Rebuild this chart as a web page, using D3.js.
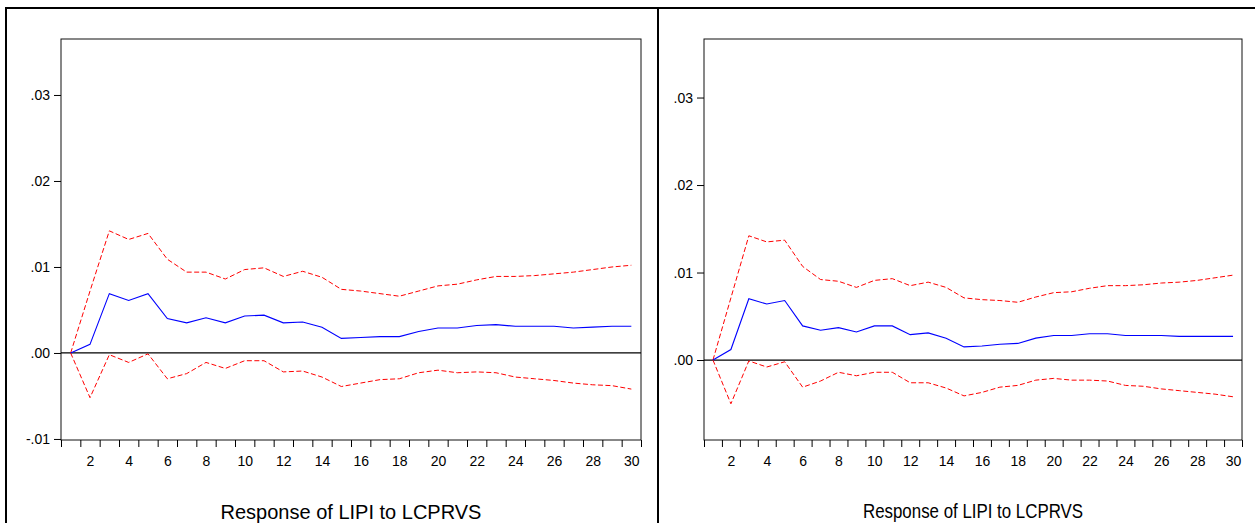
<!DOCTYPE html>
<html>
<head>
<meta charset="utf-8">
<script src="https://cdn.jsdelivr.net/npm/d3@7.9.0/dist/d3.min.js"></script>
<style>
  html, body { margin: 0; padding: 0; background: #fff; }
  svg { display: block; font-family: "Liberation Sans", Arial, sans-serif; }
</style>
</head>
<body>
<svg id="chart" width="1255" height="523"></svg>
<script>
// periods (x categories)
const periods = [1,2,3,4,5,6,7,8,9,10,11,12,13,14,15,16,17,18,19,20,21,22,23,24,25,26,27,28,29,30];
const xLabels = [2,4,6,8,10,12,14,16,18,20,22,24,26,28,30];
const yTicks = [-0.01, 0, 0.01, 0.02, 0.03];
const title = "Response of LIPI to LCPRVS";

// left panel
const leftResponse = [0, 0.0010, 0.0069, 0.0061, 0.0069, 0.0040, 0.0035, 0.0041, 0.0035, 0.0043,
  0.0044, 0.0035, 0.0036, 0.0030, 0.0017, 0.0018, 0.0019, 0.0019, 0.0025, 0.0029,
  0.0029, 0.0032, 0.0033, 0.0031, 0.0031, 0.0031, 0.0029, 0.0030, 0.0031, 0.0031];
const leftUpper = [0, 0.0072, 0.0142, 0.0132, 0.0139, 0.0109, 0.0094, 0.0094, 0.0086, 0.0097,
  0.0099, 0.0089, 0.0095, 0.0088, 0.0074, 0.0072, 0.0069, 0.0066, 0.0072, 0.0078,
  0.0080, 0.0085, 0.0089, 0.0089, 0.0090, 0.0092, 0.0094, 0.0097, 0.0100, 0.0102];
const leftLower = [0, -0.0052, -0.0002, -0.0011, -0.0001, -0.0030, -0.0024, -0.0011, -0.0018, -0.0009,
  -0.0009, -0.0022, -0.0021, -0.0028, -0.0039, -0.0035, -0.0031, -0.0030, -0.0023, -0.0020,
  -0.0023, -0.0022, -0.0023, -0.0028, -0.0030, -0.0032, -0.0035, -0.0037, -0.0038, -0.0042];

// right panel
const rightResponse = [0, 0.0012, 0.0070, 0.0064, 0.0068, 0.0039, 0.0034, 0.0037, 0.0032, 0.0039,
  0.0039, 0.0029, 0.0031, 0.0025, 0.0015, 0.0016, 0.0018, 0.0019, 0.0025, 0.0028,
  0.0028, 0.0030, 0.0030, 0.0028, 0.0028, 0.0028, 0.0027, 0.0027, 0.0027, 0.0027];
const rightUpper = [0, 0.0071, 0.0142, 0.0135, 0.0137, 0.0107, 0.0092, 0.0090, 0.0083, 0.0091,
  0.0093, 0.0085, 0.0089, 0.0083, 0.0071, 0.0069, 0.0068, 0.0066, 0.0072, 0.0077,
  0.0078, 0.0082, 0.0085, 0.0085, 0.0086, 0.0088, 0.0089, 0.0091, 0.0094, 0.0097];
const rightLower = [0, -0.0050, -0.0001, -0.0008, -0.0002, -0.0031, -0.0024, -0.0014, -0.0018, -0.0014,
  -0.0014, -0.0026, -0.0026, -0.0032, -0.0041, -0.0037, -0.0031, -0.0029, -0.0023, -0.0021,
  -0.0023, -0.0023, -0.0024, -0.0029, -0.0030, -0.0033, -0.0035, -0.0037, -0.0039, -0.0042];

const svg = d3.select('#chart');

// outer frame: top rule, left edge and the divider between panels
svg.append('line').attr('x1', 5).attr('x2', 1255).attr('y1', 8).attr('y2', 8)
  .attr('stroke', '#000').attr('stroke-width', 2);
svg.append('line').attr('x1', 6).attr('x2', 6).attr('y1', 7).attr('y2', 523)
  .attr('stroke', '#000').attr('stroke-width', 2);
svg.append('line').attr('x1', 658).attr('x2', 658).attr('y1', 7).attr('y2', 523)
  .attr('stroke', '#000').attr('stroke-width', 2);

// EViews style: ".01", "-.01"
const fmt = v => d3.format('.2f')(v).replace('\u2212', '-').replace('0.', '.');

function drawPanel(p) {
  const x = d3.scaleLinear().domain([0.5, 30.5]).range([p.left, p.right]);
  const y = d3.scaleLinear().domain(p.yDomain).range([p.bottom, p.top]);
  const g = svg.append('g');

  // frame
  g.append('rect')
    .attr('x', p.left).attr('y', p.top)
    .attr('width', p.right - p.left).attr('height', p.bottom - p.top)
    .attr('fill', 'none').attr('stroke', '#111').attr('stroke-width', 1);

  // zero line
  g.append('line')
    .attr('x1', p.left).attr('x2', p.right)
    .attr('y1', y(0)).attr('y2', y(0))
    .attr('stroke', '#000').attr('stroke-width', 1.2);

  // y axis
  const yAxis = g.append('g')
    .attr('transform', `translate(${p.left},0)`)
    .call(d3.axisLeft(y)
      .tickValues(yTicks.filter(v => v >= p.yDomain[0] && v <= p.yDomain[1]))
      .tickFormat(fmt).tickSize(7).tickPadding(4).tickSizeOuter(0));
  yAxis.select('.domain').remove();
  yAxis.selectAll('text').attr('font-size', 14).attr('fill', '#000');

  // x axis tick marks between periods
  const halfTicks = periods.map(d => d - 0.5).concat([30.5]);
  const xTickAxis = g.append('g')
    .attr('transform', `translate(0,${p.bottom})`)
    .call(d3.axisBottom(x).tickValues(halfTicks).tickFormat('').tickSize(7).tickSizeOuter(0));
  xTickAxis.select('.domain').remove();

  // x labels at even periods
  const xLabelAxis = g.append('g')
    .attr('transform', `translate(0,${p.bottom})`)
    .call(d3.axisBottom(x).tickValues(xLabels).tickFormat(d3.format('d')).tickSize(0).tickPadding(16));
  xLabelAxis.select('.domain').remove();
  xLabelAxis.selectAll('text').attr('font-size', 14).attr('fill', '#000');

  const line = d3.line().x((d, i) => x(periods[i])).y(d => y(d));

  g.append('path').datum(p.upper).attr('d', line)
    .attr('fill', 'none').attr('stroke', '#ff0000').attr('stroke-width', 1)
    .attr('stroke-dasharray', '5,2.5');
  g.append('path').datum(p.lower).attr('d', line)
    .attr('fill', 'none').attr('stroke', '#ff0000').attr('stroke-width', 1)
    .attr('stroke-dasharray', '5,2.5');
  g.append('path').datum(p.response).attr('d', line)
    .attr('fill', 'none').attr('stroke', '#0000ff').attr('stroke-width', 1.1);

  // title
  const t = g.append('text')
    .attr('x', (p.left + p.right) / 2).attr('y', p.titleY)
    .attr('text-anchor', 'middle').attr('font-size', 20).attr('fill', '#000')
    .text(title);
  if (p.titleWidth) t.attr('textLength', p.titleWidth).attr('lengthAdjust', 'spacingAndGlyphs');
}

drawPanel({
  left: 61, right: 641, top: 39, bottom: 440,
  yDomain: [-0.01012, 0.03651],
  response: leftResponse, upper: leftUpper, lower: leftLower,
  titleY: 519
});

drawPanel({
  left: 704, right: 1242, top: 39, bottom: 440,
  yDomain: [-0.00914, 0.03669],
  response: rightResponse, upper: rightUpper, lower: rightLower,
  titleY: 518, titleWidth: 220
});
</script>
</body>
</html>
